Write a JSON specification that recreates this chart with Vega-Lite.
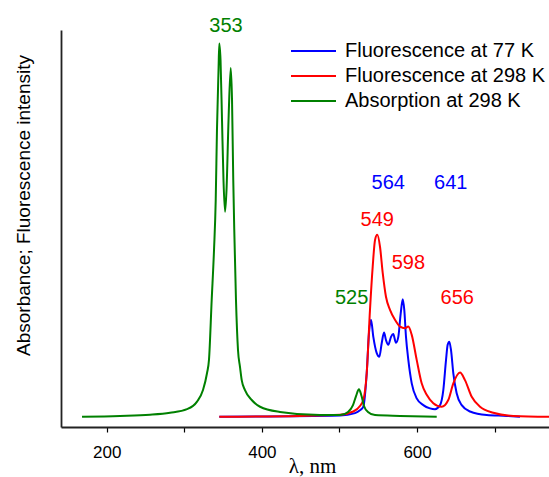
{
  "$schema": "https://vega.github.io/schema/vega-lite/v6.json",
  "autosize": "none",
  "width": 488,
  "height": 397,
  "padding": {"left": 61, "top": 30, "right": 0, "bottom": 50},
  "background": "white",
  "config": {"view": {"stroke": null}, "font": "Liberation Sans"},
  "datasets": {
    "spectra": [
      {"series": "Fluorescence at 77 K", "wavelength": 345.1, "intensity": 2.6},
      {"series": "Fluorescence at 77 K", "wavelength": 500.7, "intensity": 2.9},
      {"series": "Fluorescence at 77 K", "wavelength": 520.0, "intensity": 3.5},
      {"series": "Fluorescence at 77 K", "wavelength": 526.4, "intensity": 4.2},
      {"series": "Fluorescence at 77 K", "wavelength": 530.7, "intensity": 5.1},
      {"series": "Fluorescence at 77 K", "wavelength": 535.1, "intensity": 13.6},
      {"series": "Fluorescence at 77 K", "wavelength": 538.0, "intensity": 23.7},
      {"series": "Fluorescence at 77 K", "wavelength": 540.6, "intensity": 27.0},
      {"series": "Fluorescence at 77 K", "wavelength": 543.6, "intensity": 22.7},
      {"series": "Fluorescence at 77 K", "wavelength": 548.0, "intensity": 18.6},
      {"series": "Fluorescence at 77 K", "wavelength": 551.3, "intensity": 17.7},
      {"series": "Fluorescence at 77 K", "wavelength": 554.4, "intensity": 21.1},
      {"series": "Fluorescence at 77 K", "wavelength": 557.4, "intensity": 23.8},
      {"series": "Fluorescence at 77 K", "wavelength": 559.9, "intensity": 21.9},
      {"series": "Fluorescence at 77 K", "wavelength": 562.9, "intensity": 20.7},
      {"series": "Fluorescence at 77 K", "wavelength": 566.4, "intensity": 22.7},
      {"series": "Fluorescence at 77 K", "wavelength": 569.3, "intensity": 23.4},
      {"series": "Fluorescence at 77 K", "wavelength": 572.8, "intensity": 21.2},
      {"series": "Fluorescence at 77 K", "wavelength": 575.8, "intensity": 22.7},
      {"series": "Fluorescence at 77 K", "wavelength": 578.9, "intensity": 28.6},
      {"series": "Fluorescence at 77 K", "wavelength": 581.5, "intensity": 32.2},
      {"series": "Fluorescence at 77 K", "wavelength": 583.5, "intensity": 29.5},
      {"series": "Fluorescence at 77 K", "wavelength": 585.7, "intensity": 22.7},
      {"series": "Fluorescence at 77 K", "wavelength": 588.7, "intensity": 16.9},
      {"series": "Fluorescence at 77 K", "wavelength": 593.1, "intensity": 11.0},
      {"series": "Fluorescence at 77 K", "wavelength": 599.5, "intensity": 7.2},
      {"series": "Fluorescence at 77 K", "wavelength": 608.0, "intensity": 5.5},
      {"series": "Fluorescence at 77 K", "wavelength": 616.6, "intensity": 4.7},
      {"series": "Fluorescence at 77 K", "wavelength": 623.1, "intensity": 4.5},
      {"series": "Fluorescence at 77 K", "wavelength": 629.5, "intensity": 5.5},
      {"series": "Fluorescence at 77 K", "wavelength": 633.8, "intensity": 9.3},
      {"series": "Fluorescence at 77 K", "wavelength": 637.3, "intensity": 16.9},
      {"series": "Fluorescence at 77 K", "wavelength": 639.4, "intensity": 20.7},
      {"series": "Fluorescence at 77 K", "wavelength": 641.5, "intensity": 21.5},
      {"series": "Fluorescence at 77 K", "wavelength": 643.7, "intensity": 19.4},
      {"series": "Fluorescence at 77 K", "wavelength": 646.7, "intensity": 13.5},
      {"series": "Fluorescence at 77 K", "wavelength": 651.0, "intensity": 8.5},
      {"series": "Fluorescence at 77 K", "wavelength": 657.5, "intensity": 5.5},
      {"series": "Fluorescence at 77 K", "wavelength": 668.2, "intensity": 3.9},
      {"series": "Fluorescence at 77 K", "wavelength": 689.7, "intensity": 3.0},
      {"series": "Fluorescence at 77 K", "wavelength": 715.5, "intensity": 2.8},
      {"series": "Fluorescence at 77 K", "wavelength": 732.6, "intensity": 2.6},

      {"series": "Fluorescence at 298 K", "wavelength": 345.1, "intensity": 2.6},
      {"series": "Fluorescence at 298 K", "wavelength": 449.1, "intensity": 2.8},
      {"series": "Fluorescence at 298 K", "wavelength": 500.7, "intensity": 3.1},
      {"series": "Fluorescence at 298 K", "wavelength": 517.8, "intensity": 3.9},
      {"series": "Fluorescence at 298 K", "wavelength": 526.4, "intensity": 5.3},
      {"series": "Fluorescence at 298 K", "wavelength": 530.7, "intensity": 6.8},
      {"series": "Fluorescence at 298 K", "wavelength": 535.1, "intensity": 13.6},
      {"series": "Fluorescence at 298 K", "wavelength": 539.3, "intensity": 29.5},
      {"series": "Fluorescence at 298 K", "wavelength": 542.8, "intensity": 40.4},
      {"series": "Fluorescence at 298 K", "wavelength": 545.8, "intensity": 47.1},
      {"series": "Fluorescence at 298 K", "wavelength": 548.7, "intensity": 48.4},
      {"series": "Fluorescence at 298 K", "wavelength": 552.2, "intensity": 45.4},
      {"series": "Fluorescence at 298 K", "wavelength": 555.7, "intensity": 38.8},
      {"series": "Fluorescence at 298 K", "wavelength": 559.9, "intensity": 32.8},
      {"series": "Fluorescence at 298 K", "wavelength": 565.1, "intensity": 29.5},
      {"series": "Fluorescence at 298 K", "wavelength": 571.5, "intensity": 27.0},
      {"series": "Fluorescence at 298 K", "wavelength": 578.0, "intensity": 25.3},
      {"series": "Fluorescence at 298 K", "wavelength": 584.4, "intensity": 24.9},
      {"series": "Fluorescence at 298 K", "wavelength": 588.7, "intensity": 25.3},
      {"series": "Fluorescence at 298 K", "wavelength": 593.1, "intensity": 23.2},
      {"series": "Fluorescence at 298 K", "wavelength": 599.5, "intensity": 16.9},
      {"series": "Fluorescence at 298 K", "wavelength": 605.9, "intensity": 11.0},
      {"series": "Fluorescence at 298 K", "wavelength": 612.4, "intensity": 8.1},
      {"series": "Fluorescence at 298 K", "wavelength": 620.9, "intensity": 6.0},
      {"series": "Fluorescence at 298 K", "wavelength": 631.7, "intensity": 5.1},
      {"series": "Fluorescence at 298 K", "wavelength": 640.2, "intensity": 6.8},
      {"series": "Fluorescence at 298 K", "wavelength": 646.7, "intensity": 11.0},
      {"series": "Fluorescence at 298 K", "wavelength": 655.3, "intensity": 13.7},
      {"series": "Fluorescence at 298 K", "wavelength": 661.7, "intensity": 11.8},
      {"series": "Fluorescence at 298 K", "wavelength": 670.4, "intensity": 7.6},
      {"series": "Fluorescence at 298 K", "wavelength": 681.1, "intensity": 5.1},
      {"series": "Fluorescence at 298 K", "wavelength": 698.2, "intensity": 3.6},
      {"series": "Fluorescence at 298 K", "wavelength": 724.0, "intensity": 2.8},
      {"series": "Fluorescence at 298 K", "wavelength": 770.0, "intensity": 2.6},

      {"series": "Absorption at 298 K", "wavelength": 168.2, "intensity": 2.6},
      {"series": "Absorption at 298 K", "wavelength": 217.1, "intensity": 2.8},
      {"series": "Absorption at 298 K", "wavelength": 255.8, "intensity": 3.1},
      {"series": "Absorption at 298 K", "wavelength": 281.6, "intensity": 3.6},
      {"series": "Absorption at 298 K", "wavelength": 303.5, "intensity": 4.5},
      {"series": "Absorption at 298 K", "wavelength": 316.4, "intensity": 6.4},
      {"series": "Absorption at 298 K", "wavelength": 324.1, "intensity": 9.3},
      {"series": "Absorption at 298 K", "wavelength": 329.3, "intensity": 13.6},
      {"series": "Absorption at 298 K", "wavelength": 331.8, "intensity": 16.9},
      {"series": "Absorption at 298 K", "wavelength": 335.3, "intensity": 32.0},
      {"series": "Absorption at 298 K", "wavelength": 338.3, "intensity": 44.6},
      {"series": "Absorption at 298 K", "wavelength": 340.5, "intensity": 57.2},
      {"series": "Absorption at 298 K", "wavelength": 342.1, "intensity": 74.8},
      {"series": "Absorption at 298 K", "wavelength": 344.1, "intensity": 89.9},
      {"series": "Absorption at 298 K", "wavelength": 345.1, "intensity": 96.6},
      {"series": "Absorption at 298 K", "wavelength": 346.7, "intensity": 92.4},
      {"series": "Absorption at 298 K", "wavelength": 348.6, "intensity": 77.3},
      {"series": "Absorption at 298 K", "wavelength": 350.5, "intensity": 62.2},
      {"series": "Absorption at 298 K", "wavelength": 352.5, "intensity": 54.2},
      {"series": "Absorption at 298 K", "wavelength": 354.4, "intensity": 59.7},
      {"series": "Absorption at 298 K", "wavelength": 357.0, "intensity": 77.3},
      {"series": "Absorption at 298 K", "wavelength": 359.8, "intensity": 90.4},
      {"series": "Absorption at 298 K", "wavelength": 361.5, "intensity": 82.4},
      {"series": "Absorption at 298 K", "wavelength": 363.1, "intensity": 62.2},
      {"series": "Absorption at 298 K", "wavelength": 364.4, "intensity": 49.6},
      {"series": "Absorption at 298 K", "wavelength": 366.6, "intensity": 32.0},
      {"series": "Absorption at 298 K", "wavelength": 369.2, "intensity": 19.4},
      {"series": "Absorption at 298 K", "wavelength": 371.8, "intensity": 15.1},
      {"series": "Absorption at 298 K", "wavelength": 374.0, "intensity": 11.8},
      {"series": "Absorption at 298 K", "wavelength": 378.2, "intensity": 9.3},
      {"series": "Absorption at 298 K", "wavelength": 386.9, "intensity": 6.8},
      {"series": "Absorption at 298 K", "wavelength": 397.6, "intensity": 5.1},
      {"series": "Absorption at 298 K", "wavelength": 423.3, "intensity": 3.8},
      {"series": "Absorption at 298 K", "wavelength": 474.9, "intensity": 3.0},
      {"series": "Absorption at 298 K", "wavelength": 500.7, "intensity": 3.0},
      {"series": "Absorption at 298 K", "wavelength": 511.0, "intensity": 3.8},
      {"series": "Absorption at 298 K", "wavelength": 517.4, "intensity": 5.5},
      {"series": "Absorption at 298 K", "wavelength": 521.3, "intensity": 7.8},
      {"series": "Absorption at 298 K", "wavelength": 525.1, "intensity": 9.5},
      {"series": "Absorption at 298 K", "wavelength": 528.4, "intensity": 7.8},
      {"series": "Absorption at 298 K", "wavelength": 531.6, "intensity": 5.3},
      {"series": "Absorption at 298 K", "wavelength": 536.7, "intensity": 3.8},
      {"series": "Absorption at 298 K", "wavelength": 545.8, "intensity": 3.0},
      {"series": "Absorption at 298 K", "wavelength": 578.0, "intensity": 2.8},
      {"series": "Absorption at 298 K", "wavelength": 625.3, "intensity": 2.6}
    ],
    "labels": [
      {"series": "Absorption at 298 K", "label": "353", "wavelength": 353.7, "intensity": 101.0},
      {"series": "Fluorescence at 77 K", "label": "564", "wavelength": 562.9, "intensity": 61.4},
      {"series": "Fluorescence at 77 K", "label": "641", "wavelength": 643.4, "intensity": 61.4},
      {"series": "Fluorescence at 298 K", "label": "549", "wavelength": 548.7, "intensity": 52.1},
      {"series": "Fluorescence at 298 K", "label": "598", "wavelength": 588.7, "intensity": 41.4},
      {"series": "Absorption at 298 K", "label": "525", "wavelength": 515.7, "intensity": 32.6},
      {"series": "Fluorescence at 298 K", "label": "656", "wavelength": 651.8, "intensity": 32.6}
    ]
  },
  "layer": [
    {
      "data": {"name": "spectra"},
      "mark": {"type": "line", "interpolate": "monotone", "strokeWidth": 2, "clip": true},
      "encoding": {
        "x": {
          "field": "wavelength", "type": "quantitative",
          "scale": {"domain": [141.1, 770], "nice": false, "zero": false},
          "axis": {
            "values": [200, 300, 400, 500, 600, 700],
            "labelExpr": "datum.value % 200 == 0 ? datum.label : ''",
            "grid": false, "tickSize": 5, "tickColor": "black", "tickWidth": 1.2,
            "domainColor": "#222", "domainWidth": 1.8,
            "labelFont": "Liberation Sans", "labelFontSize": 17, "labelColor": "black",
            "labelPadding": 12,
            "title": "λ, nm", "titleFont": "Liberation Serif", "titleFontSize": 21,
            "titleFontWeight": "normal", "titleColor": "black",
            "titleX": 251, "titleY": 45, "titleBaseline": "alphabetic", "titleAlign": "center"
          }
        },
        "y": {
          "field": "intensity", "type": "quantitative",
          "scale": {"domain": [0, 100], "nice": false, "zero": true},
          "axis": {
            "ticks": false, "labels": false, "grid": false,
            "domainColor": "#222", "domainWidth": 1.8,
            "title": "Absorbance; Fluorescence intensity",
            "titleFont": "Liberation Sans", "titleFontSize": 19, "titleFontWeight": "normal",
            "titleColor": "black", "titleAngle": -90, "titleX": -38, "titleY": 175,
            "titleAlign": "center", "titleBaseline": "middle"
          }
        },
        "color": {
          "field": "series", "type": "nominal",
          "scale": {
            "domain": ["Fluorescence at 77 K", "Fluorescence at 298 K", "Absorption at 298 K"],
            "range": ["#0000ff", "#ff0000", "#008000"]
          },
          "legend": {
            "title": null, "orient": "none", "legendX": 241.5, "legendY": 10,
            "symbolType": "M-2.25,0H2.25", "symbolSize": 400, "symbolStrokeWidth": 2,
            "symbolFillColor": "transparent",
            "labelFont": "Liberation Sans", "labelFontSize": 20, "labelColor": "black",
            "labelLimit": 0, "labelOffset": 20.5, "rowPadding": 4, "padding": 0
          }
        }
      }
    },
    {
      "data": {"name": "labels"},
      "mark": {"type": "text", "font": "Liberation Sans", "fontSize": 20, "align": "center", "baseline": "middle"},
      "encoding": {
        "x": {"field": "wavelength", "type": "quantitative"},
        "y": {"field": "intensity", "type": "quantitative"},
        "text": {"field": "label", "type": "nominal"},
        "color": {
          "field": "series", "type": "nominal",
          "scale": {
            "domain": ["Fluorescence at 77 K", "Fluorescence at 298 K", "Absorption at 298 K"],
            "range": ["#0000ff", "#ff0000", "#008000"]
          },
          "legend": null
        }
      }
    }
  ],
  "resolve": {"scale": {"color": "independent"}}
}
